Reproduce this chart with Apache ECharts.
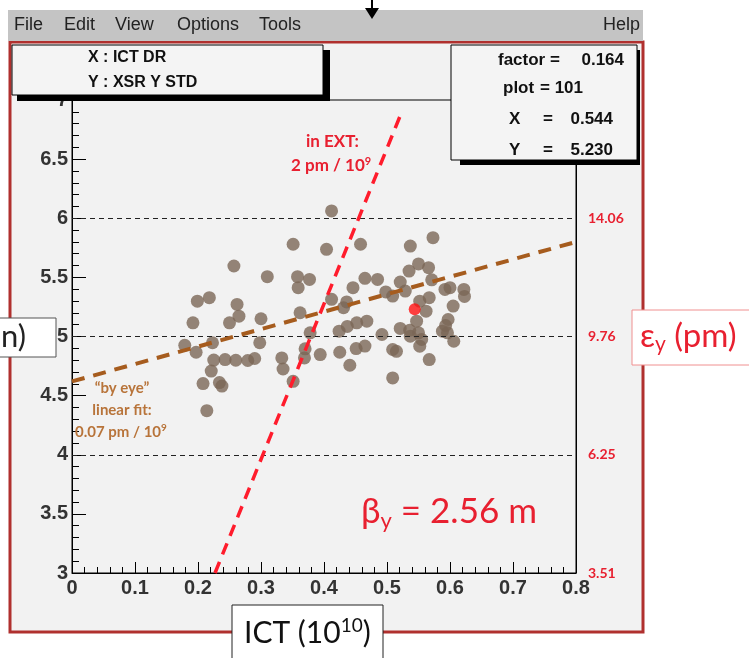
<!DOCTYPE html>
<html>
<head>
<meta charset="utf-8">
<script src="https://cdn.jsdelivr.net/npm/echarts@6/dist/echarts.min.js"></script>
<style>
  html, body { margin: 0; padding: 0; background: #ffffff; }
  #chart { width: 749px; height: 658px; }
</style>
</head>
<body>
<div id="chart"></div>
<script>
// ICT charge (10^10) per shot
const ictValues = [
  0.179, 0.197, 0.192, 0.199, 0.218, 0.223, 0.225, 0.243, 0.260, 0.279,
  0.290, 0.221, 0.208, 0.234, 0.238, 0.214, 0.257, 0.262, 0.265, 0.250,
  0.300, 0.310, 0.298, 0.351, 0.358, 0.377, 0.359, 0.362, 0.378, 0.370,
  0.369, 0.333, 0.335, 0.351, 0.394, 0.404, 0.412, 0.458, 0.465, 0.485,
  0.446, 0.498, 0.412, 0.436, 0.431, 0.424, 0.437, 0.452, 0.468, 0.425,
  0.451, 0.465, 0.441, 0.492, 0.509, 0.515, 0.509, 0.521, 0.509, 0.529,
  0.537, 0.573, 0.535, 0.550, 0.566, 0.571, 0.592, 0.600, 0.622, 0.623,
  0.552, 0.567, 0.562, 0.605, 0.521, 0.536, 0.537, 0.547, 0.550, 0.555,
  0.552, 0.567, 0.597, 0.593, 0.588, 0.596, 0.606
];
// XSR vertical beam size (std) per shot
const xsrValues = [
  4.926, 4.867, 5.116, 5.299, 5.328, 4.947, 4.801, 4.805, 4.799, 4.797,
  4.814, 4.708, 4.602, 4.610, 4.581, 4.373, 5.596, 5.271, 5.172, 5.116,
  5.150, 5.506, 4.947, 5.780, 5.506, 5.483, 5.413, 5.201, 5.031, 4.896,
  4.819, 4.819, 4.725, 4.621, 4.847, 5.737, 6.062, 5.780, 5.492, 5.483,
  5.413, 5.377, 5.314, 5.292, 5.243, 5.045, 5.085, 5.116, 5.130, 4.867,
  4.898, 4.919, 4.757, 5.017, 4.890, 4.875, 4.650, 5.460, 5.342, 5.384,
  5.765, 5.836, 5.553, 5.614, 5.582, 5.479, 5.398, 5.413, 5.398, 5.339,
  5.299, 5.328, 5.214, 5.257, 5.068, 5.053, 5.003, 5.130, 5.031, 4.975,
  4.918, 4.805, 5.144, 5.093, 5.045, 5.031, 4.960
];
// currently selected shot (from the stats box)
const currentX = 0.544;
const currentY = 5.230;

// expected dependence in EXT (2 pm / 10^9)
const extLineX = [0.227, 0.524];
const extLineY = [3.0, 6.907];
// "by eye" linear fit (0.07 pm / 10^9)
const eyeFitX = [0.0, 0.8];
const eyeFitY = [4.62, 5.80];

// dashed reference levels and emittance scale on the right
const refLevels = [4, 5, 6];
const emittanceTicks = [3, 4, 5, 6];
const emittanceLabels = ['3.51', '6.25', '9.76', '14.06'];

const RED = '#e82030';
const BROWN_TXT = '#b8743a';
const SANS = '"Liberation Sans", Arial, sans-serif';
const CAL = 'Lato, "Open Sans", sans-serif';

const chart = echarts.init(document.getElementById('chart'), null, { renderer: 'canvas' });

const shots = ictValues.map((x, i) => [x, xsrValues[i]]);

function txt(x, y, text, font, fill, align, extra) {
  return Object.assign({
    type: 'text', x: x, y: y, z: 200,
    style: {
      text: text, font: font, fill: fill,
      align: align || 'left', verticalAlign: 'middle',
      textAlign: align || 'left', textVerticalAlign: 'middle'
    }
  }, extra || {});
}

const option = {
  backgroundColor: '#ffffff',
  animation: false,
  grid: {
    left: 72, right: 173, top: 100, bottom: 85,
    show: true, borderColor: '#000', borderWidth: 1, backgroundColor: 'transparent'
  },
  xAxis: {
    type: 'value', min: 0, max: 0.8, interval: 0.1,
    axisLine: { show: true, lineStyle: { color: '#000', width: 1 } },
    axisTick: { show: true, inside: true, length: 11, lineStyle: { color: '#000' } },
    minorTick: { show: true, splitNumber: 5, length: 6, lineStyle: { color: '#000' } },
    splitLine: { show: false },
    axisLabel: {
      margin: 5, color: '#333', fontFamily: SANS, fontWeight: 'bold', fontSize: 20,
      formatter: v => String(+v.toFixed(1))
    }
  },
  yAxis: [
    {
      type: 'value', min: 3, max: 7, interval: 0.5, position: 'left',
      axisLine: { show: true, lineStyle: { color: '#000', width: 1 } },
      axisTick: { show: true, inside: true, length: 14, lineStyle: { color: '#000' } },
      minorTick: { show: true, splitNumber: 5, length: 7, lineStyle: { color: '#000' } },
      splitLine: { show: false },
      axisLabel: {
        margin: 4, color: '#333', fontFamily: SANS, fontWeight: 'bold', fontSize: 20,
        formatter: v => String(+v.toFixed(1))
      }
    },
    {
      type: 'value', min: 3, max: 7, interval: 1, position: 'right',
      axisLine: { show: true, lineStyle: { color: '#000', width: 1 } },
      axisTick: { show: false },
      splitLine: { show: false },
      axisLabel: {
        margin: 12, color: RED, fontFamily: CAL, fontWeight: 'bold', fontSize: 14,
        formatter: v => {
          const i = emittanceTicks.indexOf(Math.round(v));
          return i >= 0 ? emittanceLabels[i] : '';
        }
      }
    }
  ],
  series: [
    {
      name: 'shots', type: 'scatter', z: 3,
      data: shots, symbol: 'circle', symbolSize: 13,
      itemStyle: { color: '#7a6656' },
      markLine: {
        silent: true, symbol: 'none', label: { show: false },
        lineStyle: { color: '#222', width: 1, type: [5, 4] },
        data: refLevels.map(v => ({ yAxis: v }))
      }
    },
    {
      name: 'current', type: 'scatter', z: 4,
      data: [[currentX, currentY]], symbolSize: 12,
      itemStyle: { color: '#ff1010' }
    },
    {
      name: 'eye fit', type: 'line', z: 5, symbol: 'none',
      data: eyeFitX.map((x, i) => [x, eyeFitY[i]]),
      lineStyle: { color: '#a65c1e', width: 4, type: [13, 9] }
    },
    {
      name: 'EXT', type: 'line', z: 6, symbol: 'none',
      data: extLineX.map((x, i) => [x, extLineY[i]]),
      lineStyle: { color: '#ff1c2c', width: 3.5, type: [12, 8] }
    }
  ],
  graphic: [
    // canvas frame and background
    { type: 'rect', z: -10, shape: { x: 10, y: 42, width: 633, height: 590 },
      style: { fill: '#f2f2f2', stroke: '#b0302e', lineWidth: 3 } },
    // menu bar
    { type: 'rect', z: 150, shape: { x: 8, y: 10, width: 635, height: 31 },
      style: { fill: '#c4c4c4' } },
    txt(14, 25, 'File', '18px ' + SANS, '#222'),
    txt(64, 25, 'Edit', '18px ' + SANS, '#222'),
    txt(115, 25, 'View', '18px ' + SANS, '#222'),
    txt(177, 25, 'Options', '18px ' + SANS, '#222'),
    txt(259, 25, 'Tools', '18px ' + SANS, '#222'),
    txt(640, 25, 'Help', '18px ' + SANS, '#222', 'right'),
    // pointer arrow
    { type: 'line', z: 200, shape: { x1: 372, y1: 0, x2: 372, y2: 10 },
      style: { stroke: '#000', lineWidth: 2 } },
    { type: 'polygon', z: 200, shape: { points: [[365, 8], [379, 8], [372, 19]] },
      style: { fill: '#000' } },
    // axis-variable box (top left)
    { type: 'rect', z: 150, shape: { x: 17, y: 50, width: 313, height: 51 }, style: { fill: '#000' } },
    { type: 'rect', z: 151, shape: { x: 12, y: 45, width: 311, height: 50 },
      style: { fill: '#f4f4f4', stroke: '#000', lineWidth: 1 } },
    txt(88, 58, 'X : ICT DR', 'bold 16px ' + SANS, '#111'),
    txt(88, 83, 'Y : XSR Y STD', 'bold 16px ' + SANS, '#111'),
    // stats box (top right)
    { type: 'rect', z: 150, shape: { x: 460, y: 50, width: 180, height: 115 }, style: { fill: '#000' } },
    { type: 'rect', z: 151, shape: { x: 451, y: 45, width: 186, height: 115 },
      style: { fill: '#f4f4f4', stroke: '#000', lineWidth: 1 } },
    txt(498, 60, 'factor =', 'bold 17px ' + SANS, '#111'),
    txt(624, 60, '0.164', 'bold 17px ' + SANS, '#111', 'right'),
    txt(503, 88, 'plot', 'bold 17px ' + SANS, '#111'),
    txt(540, 88, '= 101', 'bold 17px ' + SANS, '#111'),
    txt(509, 119, 'X', 'bold 17px ' + SANS, '#111'),
    txt(543, 119, '=', 'bold 17px ' + SANS, '#111'),
    txt(613, 119, '0.544', 'bold 17px ' + SANS, '#111', 'right'),
    txt(509, 150, 'Y', 'bold 17px ' + SANS, '#111'),
    txt(543, 150, '=', 'bold 17px ' + SANS, '#111'),
    txt(613, 150, '5.230', 'bold 17px ' + SANS, '#111', 'right'),
    // annotations
    txt(306, 142, 'in EXT:', 'bold 17px ' + CAL, RED),
    { type: 'text', x: 291, y: 166, z: 200, style: {
        text: '{a|2 pm / 10}{s|9}', fill: RED, verticalAlign: 'middle', textVerticalAlign: 'middle',
        rich: { a: { font: 'bold 17px ' + CAL, fill: RED, color: RED },
                s: { font: 'bold 11px ' + CAL, fill: RED, color: RED, padding: [0, 0, 9, 0] } } } },
    txt(122, 388, '\u201Cby eye\u201D', 'bold 15px ' + CAL, BROWN_TXT, 'center'),
    txt(122, 410, 'linear fit:', 'bold 15px ' + CAL, BROWN_TXT, 'center'),
    { type: 'text', x: 75, y: 432, z: 200, style: {
        text: '{a|0.07 pm / 10}{s|9}', verticalAlign: 'middle', textVerticalAlign: 'middle',
        rich: { a: { font: 'bold 15px ' + CAL, fill: BROWN_TXT, color: BROWN_TXT },
                s: { font: 'bold 10px ' + CAL, fill: BROWN_TXT, color: BROWN_TXT, padding: [0, 0, 8, 0] } } } },
    { type: 'text', x: 361, y: 512, z: 200, style: {
        text: '{a|\u03B2}{s|y}{a| = 2.56 m}', verticalAlign: 'middle', textVerticalAlign: 'middle',
        rich: { a: { font: '35px ' + CAL, fill: RED, color: RED },
                s: { font: '22px ' + CAL, fill: RED, color: RED, padding: [18, 0, 0, 0] } } } },
    // axis title boxes
    { type: 'rect', z: 160, shape: { x: -2, y: 318, width: 58, height: 39 },
      style: { fill: '#ffffff', stroke: '#555', lineWidth: 1 } },
    txt(1, 337, 'n)', '31px ' + CAL, '#222', 'left', { z: 161 }),
    { type: 'rect', z: 160, shape: { x: 632, y: 310, width: 120, height: 55 },
      style: { fill: '#ffffff', stroke: '#f09090', lineWidth: 1 } },
    { type: 'text', x: 640, y: 336, z: 161, style: {
        text: '{a|\u03B5}{s|y}{a| (pm)}', verticalAlign: 'middle', textVerticalAlign: 'middle',
        rich: { a: { font: '33px ' + CAL, fill: RED, color: RED },
                s: { font: '21px ' + CAL, fill: RED, color: RED, padding: [17, 0, 0, 0] } } } },
    { type: 'rect', z: 160, shape: { x: 232, y: 605, width: 151, height: 60 },
      style: { fill: '#ffffff', stroke: '#222', lineWidth: 1 } },
    { type: 'text', x: 244, y: 633, z: 161, style: {
        text: '{a|ICT (10}{s|10}{a|)}', verticalAlign: 'middle', textVerticalAlign: 'middle',
        rich: { a: { font: '30px ' + CAL, fill: '#111', color: '#111' },
                s: { font: '19px ' + CAL, fill: '#111', color: '#111', padding: [0, 0, 15, 0] } } } }
  ]
};

chart.setOption(option);
</script>
</body>
</html>
